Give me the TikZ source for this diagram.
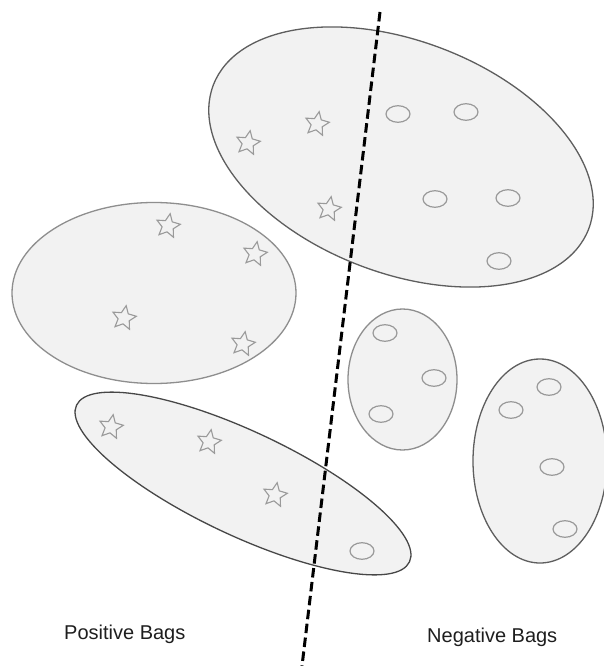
\documentclass[tikz,border=0pt]{standalone}
\usepackage{fontspec}
\setmainfont{Liberation Sans}
\usetikzlibrary{shapes.geometric}
\definecolor{bagfill}{HTML}{F2F2F2}
\definecolor{bagdark}{HTML}{5E5E5E}
\definecolor{baglight}{HTML}{8E8E8E}
\definecolor{itemgray}{HTML}{9A9A9A}
\definecolor{labeltext}{HTML}{1E1E1E}
\tikzset{
  bagshape/.style={fill=bagfill, draw=bagdark, line width=1.3pt},
  lightbagshape/.style={fill=bagfill, draw=baglight, line width=1.3pt},
  neginst/.style={draw=itemgray, line width=1.2pt},
  posinst/.style={star, star points=5, star point ratio=2.1, draw=itemgray, line width=1.1pt,
    minimum size=25pt, inner sep=0pt, rotate=-10},
  baglabel/.style={font=\fontsize{20}{24}\selectfont, text=labeltext, inner sep=0pt, anchor=base west},
  divider/.style={line width=3pt, dash pattern=on 9.5pt off 4.5pt}
}
\begin{document}
\begin{tikzpicture}[x=1pt, y=-1pt]
  \useasboundingbox (0,0) rectangle (604,666);
  \fill[white] (0,0) rectangle (604,666);

  % bags
  \draw[bagshape] (401,157) ellipse [x radius=201, y radius=116, rotate=-21];
  \draw[lightbagshape] (154,293) ellipse [x radius=142, y radius=90.5];
  \draw[bagshape, draw=black!72] (243,483.5) ellipse [x radius=184, y radius=52, rotate=-25.2];
  \draw[lightbagshape] (402.5,379.5) ellipse [x radius=54.5, y radius=70.5];
  \draw[bagshape] (540,461) ellipse [x radius=67, y radius=102];

  % positive instances (stars)
  \node[posinst] (p1) at (248,143) {};
  \node[posinst] (p2) at (317,124) {};
  \node[posinst] (p3) at (329,209) {};
  \node[posinst] (p4) at (168,226) {};
  \node[posinst] (p5) at (255,254) {};
  \node[posinst] (p6) at (124,318) {};
  \node[posinst] (p7) at (243,344) {};
  \node[posinst] (p8) at (111,427) {};
  \node[posinst] (p9) at (209,442) {};
  \node[posinst] (p10) at (275,495) {};

  % negative instances (small ellipses)
  \foreach \cx/\cy in {398/114, 466/112, 435/199, 508/198, 499/261,
                       385/333, 434/378, 381/414,
                       549/387, 511/410, 552/467, 565/529,
                       362/551}
    \draw[neginst] (\cx,\cy) ellipse [x radius=12, y radius=8.3];

  % separating boundary
  \coordinate (top) at (380,12);
  \coordinate (bot) at (302,666);
  \draw[divider] (top) -- (bot);

  % labels
  \node[baglabel] (poslabel) at (64,639) {Positive Bags};
  \node[baglabel] (neglabel) at (427,642) {Negative Bags};
\end{tikzpicture}
\end{document}
